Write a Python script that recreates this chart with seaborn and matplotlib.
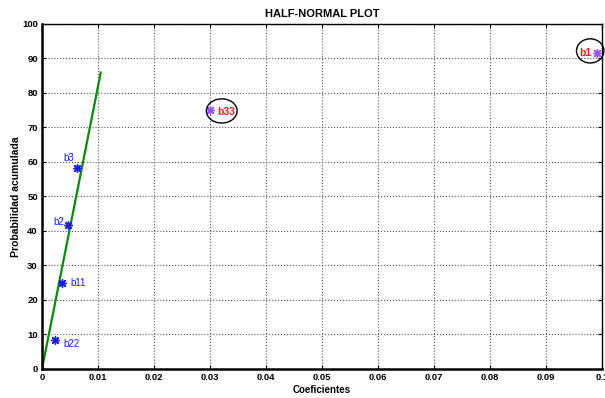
import numpy as np
import pandas as pd
import matplotlib
matplotlib.use("Agg")
import matplotlib.pyplot as plt
from matplotlib.patches import Ellipse
import seaborn as sns

# effect estimates (absolute) and cumulative probability
effects = ["b22", "b11", "b2", "b3", "b33", "b1"]
coef = [0.0023, 0.0036, 0.0047, 0.0063, 0.0300, 0.0991]
prob = [8.33, 25.0, 41.67, 58.33, 75.0, 91.67]
significant = [False, False, False, False, True, True]

# reference line through the origin
line_x = [0.0, 0.0105]
line_y = [0.0, 86.0]

xticks = [0, 0.01, 0.02, 0.03, 0.04, 0.05, 0.06, 0.07, 0.08, 0.09, 0.1]
xticklabels = ["0", "0.01", "0.02", "0.03", "0.04", "0.05", "0.06", "0.07", "0.08", "0.09", "0.1"]
yticks = list(range(0, 101, 10))

df = pd.DataFrame({"effect": effects, "coef": coef, "prob": prob, "sig": significant})

sns.set_theme(style="ticks")
plt.rcParams['font.family'] = ['Liberation Sans', 'DejaVu Sans']
plt.rcParams['text.color'] = 'black'
plt.rcParams['axes.labelcolor'] = 'black'
plt.rcParams['xtick.color'] = 'black'
plt.rcParams['ytick.color'] = 'black'

fig = plt.figure(figsize=(6.05, 3.98), dpi=100)
ax = fig.add_axes([0.0694, 0.0729, 0.9256, 0.8668])

sns.lineplot(x=line_x, y=line_y, ax=ax, color="#0a8a0a", linewidth=1.6)

# MATLAB-style asterisk markers
normal = df[~df["sig"]]
sig = df[df["sig"]]
ax.scatter(normal["coef"], normal["prob"], marker=(8, 2, 0), s=32, color="#1a1aff", linewidths=1.0, zorder=3)
ax.scatter(sig["coef"], sig["prob"], marker=(8, 2, 0), s=32, color="#9a55ff", linewidths=1.0, zorder=3)

# labels
offsets = {"b22": (6, -3, "left"), "b11": (6, 0, "left"), "b2": (-3, 2, "right"),
           "b3": (-2, 7, "right"), "b33": (5, -1, "left"), "b1": (-4, 0, "right")}
for _, r in df.iterrows():
    dx, dy, ha = offsets[r["effect"]]
    if r["sig"]:
        ax.annotate(r["effect"], (r["coef"], r["prob"]), xytext=(dx, dy), textcoords="offset points",
                    ha=ha, va="center", fontsize=7.5, color="#ff1a1a", fontweight="bold")
    else:
        ax.annotate(r["effect"], (r["coef"], r["prob"]), xytext=(dx, dy), textcoords="offset points",
                    ha=ha, va="center", fontsize=7, color="#1a1aff")

ax.add_patch(Ellipse((0.0321, 74.8), 0.0055, 7.0, fill=False, edgecolor="black", linewidth=1.0, zorder=4))
ax.add_patch(Ellipse((0.0979, 92.2), 0.0049, 7.0, fill=False, edgecolor="black", linewidth=1.0, zorder=4,
                     clip_on=False))

ax.set_xlim(0, 0.1)
ax.set_ylim(0, 100)
ax.set_xticks(xticks)
ax.set_xticklabels(xticklabels)
ax.set_yticks(yticks)
ax.grid(True, linestyle=":", color="#555555", linewidth=0.8)
ax.tick_params(direction="in", length=3, width=0.8, labelsize=6.8, pad=3, top=True, right=True)
for lab in ax.get_xticklabels() + ax.get_yticklabels():
    lab.set_fontweight("bold")
for s in ["left", "bottom"]:
    ax.spines[s].set_linewidth(1.8)
for s in ["top", "right"]:
    ax.spines[s].set_linewidth(1.0)
for s in ax.spines.values():
    s.set_color("black")

ax.set_xlabel("Coeficientes", fontsize=7, fontweight="bold", labelpad=2)
ax.set_ylabel("Probabilidad acumulada", fontsize=7.5, fontweight="bold", labelpad=1)
ax.set_title("HALF-NORMAL PLOT", fontsize=8, fontweight="bold", pad=5)

fig.savefig("out.png", dpi=100)
